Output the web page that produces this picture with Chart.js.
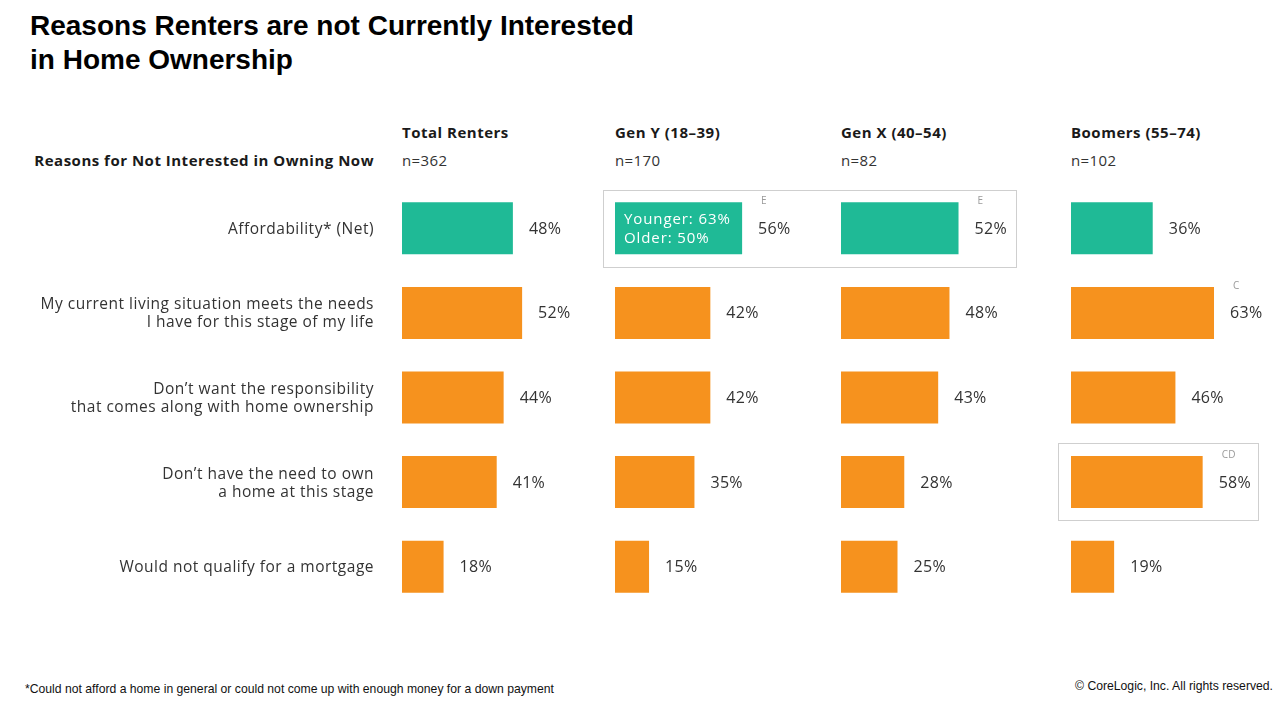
<!DOCTYPE html>
<html>
<head>
<meta charset="utf-8">
<script src="https://cdn.jsdelivr.net/npm/chart.js@4/dist/chart.umd.min.js"></script>
<style>
  html, body { margin: 0; padding: 0; background: #fff; }
  #page { position: relative; width: 1286px; height: 704px; overflow: hidden; font-family: "Open Sans", Lato, sans-serif; color: #222; }
  .abs { position: absolute; white-space: nowrap; }
  .title { left: 30px; top: 9px; font: bold 28px/34px "Liberation Sans", Arial, sans-serif; color: #000; }
  .head { font-weight: bold; font-size: 15px; letter-spacing: 0.5px; color: #1a1a1a; }
  .n { font-size: 15px; color: #333; letter-spacing: 0.4px; }
  .foot { font: 12.2px "Liberation Sans Narrow", "Liberation Sans", Arial, sans-serif; color: #111; }
  .box { position: absolute; border: 1px solid #cfcfcf; }
  .wrap { position: absolute; }
</style>
</head>
<body>
<div id="page">
  <div class="abs title">Reasons Renters are not Currently Interested<br>in Home Ownership</div>
  <div class="abs head" style="right:912px; top:150px;">Reasons for Not Interested in Owning Now</div>
  <div id="heads"></div>

  <div class="box" style="left:603px; top:190px; width:412px; height:76px;"></div>
  <div class="box" style="left:1058px; top:443px; width:199px; height:76px;"></div>

  <div class="wrap" style="left:0px; top:186px; width:633px; height:423px;"><canvas id="c0"></canvas></div>
  <div class="wrap" style="left:615px; top:186px; width:227px; height:423px;"><canvas id="c1"></canvas></div>
  <div class="wrap" style="left:841px; top:186px; width:226px; height:423px;"><canvas id="c2"></canvas></div>
  <div class="wrap" style="left:1071px; top:186px; width:227px; height:423px;"><canvas id="c3"></canvas></div>

  <div class="abs foot" style="left:25px; top:682px;">*Could not afford a home in general or could not come up with enough money for a down payment</div>
  <div class="abs foot" style="right:13px; top:679px;">© CoreLogic, Inc. All rights reserved.</div>
</div>

<script>
const categories = [
  'Affordability* (Net)',
  ['My current living situation meets the needs', 'I have for this stage of my life'],
  ["Don’t want the responsibility", 'that comes along with home ownership'],
  ["Don’t have the need to own", 'a home at this stage'],
  'Would not qualify for a mortgage'
];
const groups = ['Total Renters', 'Gen Y (18–39)', 'Gen X (40–54)', 'Boomers (55–74)'];
const sampleSizes = ['n=362', 'n=170', 'n=82', 'n=102'];

const totalRenters = [48, 52, 44, 41, 18];
const genY = [56, 42, 42, 35, 15];
const genX = [52, 48, 43, 28, 25];
const boomers = [36, 63, 46, 58, 19];

const sigLetters = [
  ['', '', '', '', ''],
  ['E', '', '', '', ''],
  ['E', '', '', '', ''],
  ['', 'C', '', 'CD', '']
];
const genYSplit = ['Younger: 63%', 'Older: 50%'];

const series = [totalRenters, genY, genX, boomers];
const headX = [402, 615, 841, 1071];

const teal = '#1fba96';
const orange = '#f6921e';
const FONT = '"Open Sans", Lato, sans-serif';

const heads = document.getElementById('heads');
groups.forEach((g, i) => {
  heads.insertAdjacentHTML('beforeend',
    `<div class="abs head" style="left:${headX[i]}px; top:122px;">${g}</div>` +
    `<div class="abs n" style="left:${headX[i]}px; top:150px;">${sampleSizes[i]}</div>`);
});

// value labels, significance letters, category labels and the split text in the Gen Y bar
const valueLabels = {
  id: 'valueLabels',
  afterDatasetsDraw(chart, args, opts) {
    const ctx = chart.ctx;
    const meta = chart.getDatasetMeta(0);
    const data = chart.data.datasets[0].data;
    ctx.save();
    ctx.textBaseline = 'middle';
    meta.data.forEach((bar, i) => {
      const x = bar.x + 16;
      ctx.letterSpacing = '0.3px';
      ctx.font = '16px ' + FONT;
      ctx.fillStyle = '#333';
      ctx.textAlign = 'left';
      ctx.fillText(data[i] + '%', x, bar.y + 1);
      const letter = opts.letters[i];
      if (letter) {
        ctx.font = '10px ' + FONT;
        ctx.fillStyle = '#9a9a9a';
        ctx.fillText(letter, x + 3, bar.y - 27);
      }
    });
    if (opts.showCategories) {
      const y = chart.scales.y;
      ctx.font = '15.5px ' + FONT;
      ctx.letterSpacing = '0.5px';
      ctx.fillStyle = '#333';
      ctx.textAlign = 'right';
      chart.data.labels.forEach((lab, i) => {
        const lines = Array.isArray(lab) ? lab : [lab];
        const yc = y.getPixelForTick(i);
        lines.forEach((ln, k) => {
          ctx.fillText(ln, chart.chartArea.left - 28, yc + 1 + (k - (lines.length - 1) / 2) * 18);
        });
      });
    }
    if (opts.inside) {
      const bar = meta.data[0];
      ctx.font = '15px ' + FONT;
      ctx.letterSpacing = '0.9px';
      ctx.fillStyle = '#fff';
      ctx.textAlign = 'left';
      ctx.fillText(opts.inside[0], bar.base + 9, bar.y - 9);
      ctx.fillText(opts.inside[1], bar.base + 9, bar.y + 10);
    }
    ctx.restore();
  }
};

series.forEach((vals, i) => {
  const first = i === 0;
  new Chart(document.getElementById('c' + i), {
    type: 'bar',
    data: {
      labels: categories,
      datasets: [{
        data: vals,
        backgroundColor: vals.map((v, j) => j === 0 ? teal : orange),
        borderWidth: 0,
        categoryPercentage: 1,
        barPercentage: 0.615
      }]
    },
    options: {
      indexAxis: 'y',
      responsive: true,
      maintainAspectRatio: false,
      animation: false,
      layout: { padding: { left: first ? 402 : 0 } },
      scales: {
        x: { min: 0, max: 100, display: false },
        y: { display: false }
      },
      plugins: {
        legend: { display: false },
        tooltip: { enabled: false },
        valueLabels: { letters: sigLetters[i], inside: i === 1 ? genYSplit : null, showCategories: first }
      }
    },
    plugins: [valueLabels]
  });
});
</script>
</body>
</html>
